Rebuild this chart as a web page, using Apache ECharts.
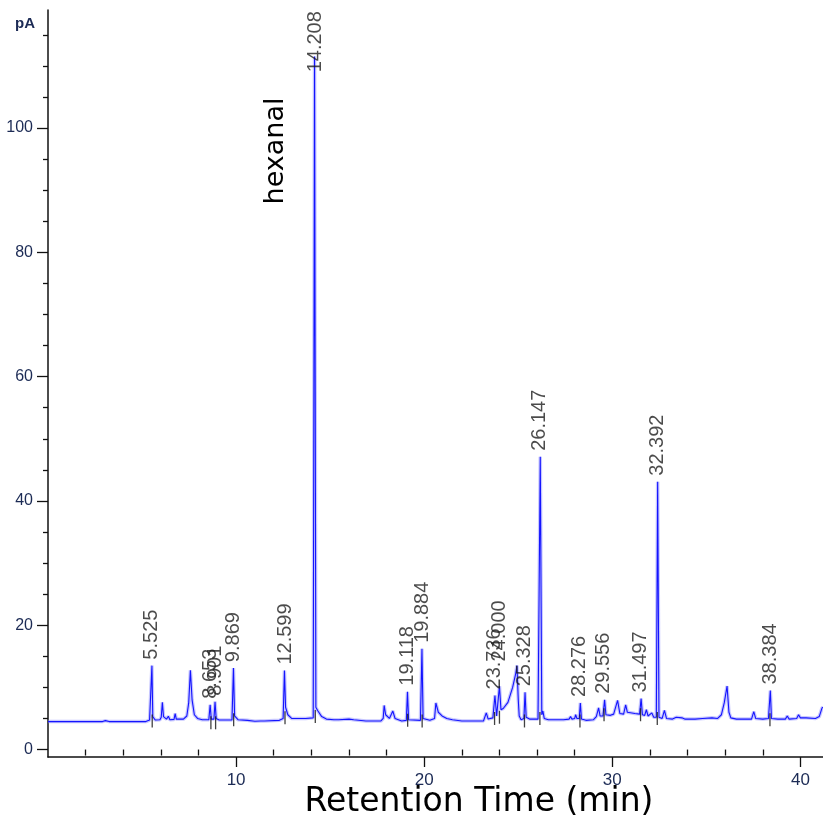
<!DOCTYPE html>
<html>
<head>
<meta charset="utf-8">
<script src="https://cdn.jsdelivr.net/npm/echarts@6/dist/echarts.min.js"></script>
<style>html,body{margin:0;padding:0;background:#fff;}#c{width:823px;height:824px;}</style>
</head>
<body>
<div id="c"></div>
<script>
// ---- Chromatogram trace (retention time in min, signal in pA) ----
const traceTime = [
  0.00, 2.90, 3.05, 3.25, 5.20, 5.40, 5.50, 5.525, 5.57, 5.70, 5.95, 6.02, 6.08, 6.14, 6.30, 6.40, 6.48, 6.70, 6.76, 6.82,
  7.20, 7.38, 7.48, 7.57, 7.66, 7.78, 7.95, 8.20, 8.55, 8.62, 8.68, 8.82, 8.88, 8.94, 9.10, 9.78, 9.86, 9.92, 10.10, 10.60,
  11.00, 11.30, 11.40, 11.50, 12.30, 12.50, 12.57, 12.63, 12.75, 12.95, 13.50, 13.60, 13.70, 14.10, 14.17, 14.24, 14.35, 14.55, 14.80, 15.20,
  15.30, 15.45, 16.00, 16.10, 16.25, 16.90, 17.70, 17.82, 17.87, 17.95, 18.15, 18.33, 18.45, 18.80, 19.05, 19.11, 19.17, 19.80, 19.88, 19.94,
  20.30, 20.55, 20.62, 20.75, 20.95, 21.20, 21.30, 21.50, 22.00, 23.15, 23.30, 23.40, 23.65, 23.76, 23.85, 23.95, 24.00, 24.08, 24.20, 24.45,
  24.70, 24.85, 24.93, 25.00, 25.05, 25.15, 25.30, 25.36, 25.42, 25.60, 26.05, 26.17, 26.25, 26.31, 26.38, 26.60, 27.20, 27.30, 27.40, 27.70,
  27.78, 27.85, 28.00, 28.05, 28.12, 28.24, 28.30, 28.36, 28.60, 29.00, 29.15, 29.27, 29.35, 29.50, 29.59, 29.66, 29.90, 30.07, 30.28, 30.40,
  30.60, 30.71, 30.80, 31.20, 31.45, 31.53, 31.60, 31.72, 31.81, 31.90, 32.10, 32.20, 32.34, 32.41, 32.48, 32.65, 32.77, 32.88, 33.20, 33.40,
  33.50, 33.70, 33.85, 34.40, 34.80, 35.30, 35.60, 35.80, 35.95, 36.10, 36.20, 36.30, 36.60, 37.40, 37.52, 37.62, 38.00, 38.30, 38.40, 38.46,
  38.80, 39.20, 39.30, 39.40, 39.80, 39.90, 40.00, 40.30, 40.80, 41.00, 41.15, 41.20
];
const traceSignal = [
  4.50, 4.50, 4.65, 4.50, 4.50, 4.75, 5.00, 13.50, 5.30, 4.75, 4.80, 5.20, 7.60, 5.30, 4.90, 5.35, 4.80, 4.85, 5.80, 4.90,
  4.90, 5.40, 7.50, 12.75, 8.00, 5.60, 5.00, 4.80, 4.80, 7.20, 4.90, 4.90, 7.70, 5.00, 4.75, 4.75, 13.10, 5.40, 4.80, 4.70,
  4.55, 4.60, 4.80, 4.60, 4.70, 5.00, 12.70, 6.80, 5.60, 5.00, 5.00, 5.30, 5.00, 5.10, 111.50, 6.80, 6.20, 5.30, 4.90, 4.80,
  5.00, 4.80, 4.90, 5.10, 4.80, 4.60, 4.60, 5.00, 7.10, 5.60, 5.00, 6.20, 5.00, 4.60, 4.70, 9.30, 4.80, 4.70, 16.20, 5.00,
  4.70, 5.00, 7.50, 6.00, 5.40, 5.00, 5.20, 4.80, 4.60, 4.60, 5.90, 4.90, 5.10, 8.70, 5.40, 5.60, 10.20, 6.40, 6.60, 7.60,
  10.00, 12.00, 13.50, 8.00, 5.40, 4.80, 5.00, 9.20, 5.20, 4.90, 4.90, 47.10, 5.60, 6.20, 5.00, 4.80, 4.80, 5.10, 4.80, 4.90,
  5.30, 4.90, 5.00, 5.60, 5.00, 5.00, 7.50, 4.90, 4.70, 4.80, 5.30, 6.70, 5.40, 5.40, 8.00, 5.60, 5.50, 5.70, 7.90, 5.80,
  5.70, 7.20, 6.00, 5.80, 5.70, 8.20, 5.60, 5.50, 6.40, 5.40, 5.90, 5.20, 5.20, 43.10, 5.20, 5.00, 6.30, 5.00, 4.90, 5.20,
  4.90, 5.10, 4.90, 4.90, 5.00, 5.10, 5.00, 5.60, 7.50, 10.20, 6.00, 5.10, 4.90, 4.90, 6.10, 5.00, 4.90, 5.00, 9.50, 5.00,
  4.90, 4.90, 5.40, 4.90, 5.00, 5.60, 5.10, 5.10, 5.00, 5.30, 6.70, 6.80
];

// ---- Labelled peaks ----
const peakLabels = ['5.525','8.653','8.901','9.869','12.599','14.208','19.118','19.884','23.736','24.000','25.328','26.147','28.276','29.556','31.497','32.392','38.384'];
const peakLabelHeights = [13.5, 7.2, 7.7, 13.1, 12.7, 108.0, 9.3, 16.2, 8.7, 13.2, 9.2, 47.1, 7.5, 8.0, 8.2, 43.1, 9.5];
const integrationTimes = [5.54, 8.66, 8.91, 9.87, 12.60, 14.21, 19.12, 19.89, 23.74, 24.00, 25.33, 26.15, 28.28, 29.56, 31.50, 32.39, 38.38];
const integrationLevels = [4.6, 4.3, 4.3, 4.8, 5.1, 5.3, 4.7, 4.6, 5.0, 5.2, 4.6, 5.0, 4.6, 5.6, 5.6, 5.0, 4.8];

// ---- Axes ----
const xMajorTicks = [10, 20, 30, 40];
const xMinorTicks = [2, 4, 6, 8, 12, 14, 16, 18, 22, 24, 26, 28, 32, 34, 36, 38];
const yMajorTicks = [0, 20, 40, 60, 80, 100];
const yMinorTicks = [5, 10, 15, 25, 30, 35, 45, 50, 55, 65, 70, 75, 85, 90, 95, 105, 110, 115];

const trace = traceTime.map((t, i) => [t, traceSignal[i]]);
const peakPoints = peakLabels.map((l, i) => ({ value: [parseFloat(l), peakLabelHeights[i]], name: l }));
const integrationPoints = integrationTimes.map((t, i) => [t, integrationLevels[i]]);

const chart = echarts.init(document.getElementById('c'), null, { renderer: 'canvas' });
const tickFont = "'Liberation Sans Narrow', 'Liberation Sans', Arial, sans-serif";
const labelColor = '#1c2b55';

chart.setOption({
  animation: false,
  backgroundColor: '#fff',
  grid: { left: 48, right: 0, top: 10, bottom: 67, containLabel: false },
  xAxis: [
    {
      type: 'value', min: 0, max: 41.2,
      axisLine: { show: true, onZero: false, lineStyle: { color: '#111', width: 1.5 } },
      axisTick: { show: true, customValues: xMajorTicks, length: 10, lineStyle: { color: '#111', width: 1.3 } },
      axisLabel: { show: true, customValues: xMajorTicks, margin: 15, fontSize: 17, color: labelColor, fontFamily: tickFont },
      splitLine: { show: false }
    },
    {
      type: 'value', min: 0, max: 41.2, position: 'bottom', gridIndex: 0,
      axisLine: { show: false },
      axisTick: { show: true, customValues: xMinorTicks, length: 6, lineStyle: { color: '#111', width: 1.3 } },
      axisLabel: { show: false },
      splitLine: { show: false }
    }
  ],
  yAxis: [
    {
      type: 'value', min: -1.2, max: 119,
      axisLine: { show: true, onZero: false, lineStyle: { color: '#111', width: 1.5 } },
      axisTick: { show: true, customValues: yMajorTicks, length: 11, lineStyle: { color: '#111', width: 1.3 } },
      axisLabel: { show: true, customValues: yMajorTicks, margin: 15, fontSize: 16, color: labelColor, fontFamily: tickFont },
      splitLine: { show: false }
    },
    {
      type: 'value', min: -1.2, max: 119, position: 'left',
      axisLine: { show: false },
      axisTick: { show: true, customValues: yMinorTicks, length: 5, lineStyle: { color: '#111', width: 1.3 } },
      axisLabel: { show: false },
      splitLine: { show: false }
    }
  ],
  series: [
    {
      type: 'line', data: trace, showSymbol: false, symbol: 'none', silent: true,
      lineStyle: { color: 'rgba(130,130,255,0.45)', width: 3.5 }, z: 2
    },
    {
      type: 'line', data: trace, showSymbol: false, symbol: 'none', silent: true,
      lineStyle: { color: '#1414ff', width: 1.1 }, z: 3
    },
    {
      type: 'scatter', data: integrationPoints, symbol: 'rect', symbolSize: [1.3, 13],
      itemStyle: { color: '#111' }, silent: true, z: 4
    },
    {
      type: 'scatter', data: peakPoints, symbolSize: 0, silent: true, z: 5,
      label: {
        show: true, position: 'top', distance: 6, rotate: 90, align: 'left', verticalAlign: 'middle',
        formatter: p => p.name, fontSize: 20, color: '#1e1e1e', fontFamily: "'Liberation Sans', Arial, sans-serif"
      }
    }
  ],
  graphic: [
    { type: 'text', left: 15, top: 16, style: { text: 'pA', font: "bold 15px 'Liberation Sans', Arial, sans-serif", fill: labelColor } },
    { type: 'text', x: 276, y: 151, rotation: Math.PI / 2,
      style: { text: 'hexanal', font: "27px 'DejaVu Sans', sans-serif", fill: '#000', textAlign: 'center', textVerticalAlign: 'middle' } },
    { type: 'text', x: 479, y: 802,
      style: { text: 'Retention Time (min)', font: "33px 'DejaVu Sans', sans-serif", fill: '#000', textAlign: 'center', textVerticalAlign: 'middle' } }
  ]
});
</script>
</body>
</html>
